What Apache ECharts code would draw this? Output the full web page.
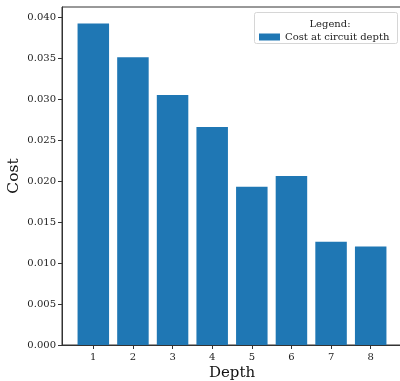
<!DOCTYPE html>
<html>
<head>
<meta charset="utf-8">
<script src="https://cdn.jsdelivr.net/npm/echarts@6/dist/echarts.min.js"></script>
<style>
  html, body { margin: 0; padding: 0; background: #fff; }
  #chart { width: 400px; height: 381px; }
</style>
</head>
<body>
<div id="chart"></div>
<script>
// 数据
var depths = [1, 2, 3, 4, 5, 6, 7, 8];
var costs = [0.0392, 0.0351, 0.0305, 0.0266, 0.0193, 0.0206, 0.0126, 0.0120];
var yTicks = [0, 0.005, 0.010, 0.015, 0.020, 0.025, 0.030, 0.035, 0.040];

var font = 'DejaVu Serif';
var axisColor = '#333';

var chart = echarts.init(document.getElementById('chart'));

var option = {
    animation: false,
    backgroundColor: '#fff',
    textStyle: { fontFamily: font },
    grid: {
        left: 62,
        top: 7,
        width: 340,
        height: 338,
        containLabel: false,
        outerBoundsMode: 'none',
        show: true,
        borderColor: axisColor,
        borderWidth: 1
    },
    title: {
        text: 'Legend:',
        left: 325,
        top: 14,
        textAlign: 'center',
        textStyle: { fontFamily: font, fontSize: 10, fontWeight: 'normal', color: '#222' }
    },
    legend: {
        left: 254,
        top: 27,
        data: ['Cost at circuit depth'],
        itemWidth: 21,
        itemHeight: 7,
        itemGap: 8,
        textStyle: { fontFamily: font, fontSize: 10, color: '#222' },
        icon: 'rect'
    },
    graphic: [{
        type: 'rect',
        left: 254,
        top: 12,
        shape: { width: 143, height: 31, r: 2 },
        style: { fill: 'rgba(255,255,255,0.8)', stroke: '#d6d6d6', lineWidth: 1 },
        z: 0
    }],
    xAxis: {
        type: 'value',
        min: 0.21,
        max: 8.79,
        name: 'Depth',
        nameLocation: 'middle',
        nameGap: 21,
        nameMoveOverlap: false,
        nameTextStyle: { fontFamily: font, fontSize: 15, color: '#111' },
        splitLine: { show: false },
        axisLine: { show: true, lineStyle: { color: axisColor } },
        axisTick: { show: true, length: 4, customValues: depths, lineStyle: { color: axisColor } },
        axisLabel: {
            customValues: depths,
            fontFamily: font,
            fontSize: 10,
            color: '#222',
            margin: 7
        }
    },
    yAxis: {
        type: 'value',
        min: 0,
        max: 0.04122,
        name: 'Cost',
        nameLocation: 'middle',
        nameGap: 40,
        nameMoveOverlap: false,
        nameTextStyle: { fontFamily: font, fontSize: 15.5, color: '#111' },
        splitLine: { show: false },
        axisLine: { show: true, lineStyle: { color: axisColor } },
        axisTick: { show: true, length: 4, customValues: yTicks, lineStyle: { color: axisColor } },
        axisLabel: {
            customValues: yTicks,
            fontFamily: font,
            fontSize: 10,
            color: '#222',
            margin: 6,
            formatter: function (v) { return v.toFixed(3); }
        }
    },
    series: [{
        name: 'Cost at circuit depth',
        type: 'bar',
        barWidth: 31.5,
        itemStyle: { color: '#1f77b4' },
        data: depths.map(function (d, i) { return [d, costs[i]]; })
    }]
};

chart.setOption(option);
</script>
</body>
</html>
